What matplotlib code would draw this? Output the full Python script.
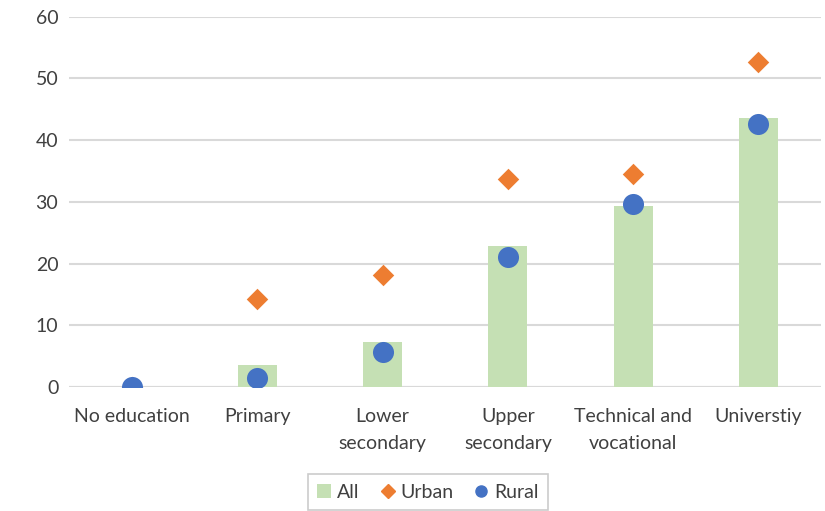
import matplotlib
matplotlib.use("Agg")
import matplotlib.pyplot as plt
from matplotlib.lines import Line2D
from matplotlib.patches import Patch
import numpy as np

plt.rcParams['font.family'] = ['Lato', 'DejaVu Sans']

categories = ["No education", "Primary", "Lower\nsecondary", "Upper\nsecondary",
              "Technical and\nvocational", "Universtiy"]
all_values = [0.0, 3.6, 7.3, 22.8, 29.3, 43.6]
urban_values = [0.0, 14.3, 18.2, 33.7, 34.5, 52.6]
rural_values = [0.0, 1.5, 5.6, 21.0, 29.6, 42.6]
y_ticks = [0, 10, 20, 30, 40, 50, 60]

fig = plt.figure(figsize=(8.25, 5.11), dpi=100)
ax = fig.add_axes([0.0842, 0.2427, 0.911, 0.7246])

x = np.arange(len(categories))
ax.bar(x, all_values, width=0.31, color="#C5E0B4", zorder=2)
ax.scatter(x, urban_values, marker="D", s=120, color="#ED7D31", zorder=3, linewidths=0)
ax.scatter(x, rural_values, marker="o", s=230, color="#4472C4", zorder=4, linewidths=0)

ax.set_xlim(-0.5, len(categories) - 0.5)
ax.set_ylim(0, 60)
ax.set_yticks(y_ticks)
ax.set_xticks(x)
ax.set_xticklabels(categories, fontsize=14, color="#404040", linespacing=1.75)
ax.tick_params(axis="y", labelsize=14, labelcolor="#404040", length=0, pad=8)
ax.tick_params(axis="x", length=0, pad=15)
ax.grid(axis="y", color="#D9D9D9", linewidth=1.5, zorder=0)
ax.set_axisbelow(True)
for s in ax.spines.values():
    s.set_visible(False)
ax.axhline(0, color="#D9D9D9", linewidth=1.5, zorder=1)

handles = [
    Patch(facecolor="#C5E0B4", edgecolor="none"),
    Line2D([], [], marker="D", linestyle="none", color="#ED7D31", markersize=7),
    Line2D([], [], marker="o", linestyle="none", color="#4472C4", markersize=8),
]
leg = fig.legend(handles, ["All", "Urban", "Rural"], loc="center",
                 bbox_to_anchor=(428 / 825, 1 - 492 / 511), ncol=3, fontsize=14,
                 frameon=True, fancybox=False, edgecolor="#BFBFBF",
                 handlelength=0.7, handletextpad=0.3, columnspacing=1.1,
                 borderpad=0.5)
leg.get_frame().set_linewidth(1.2)
for t in leg.get_texts():
    t.set_color("#404040")

fig.savefig("out.png", dpi=100)
